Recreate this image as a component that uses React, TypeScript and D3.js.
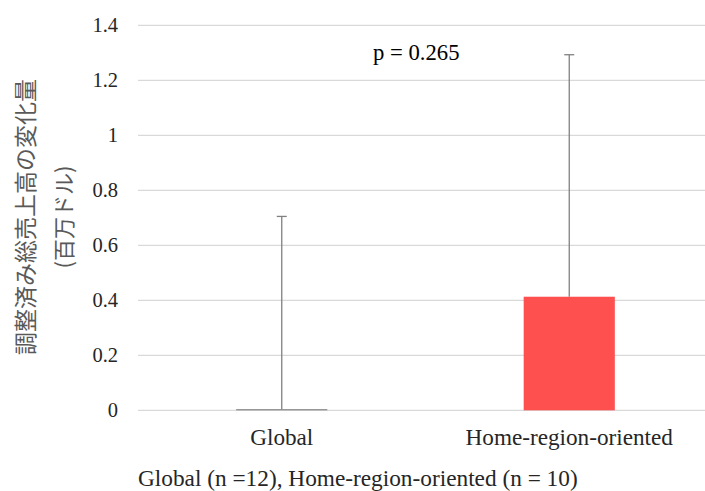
import * as d3 from "d3";

const categories = ["Global", "Home-region-oriented"];
const means = [0.004, 0.413];
const upperErrors = [0.701, 0.88];
const barColors = ["#7f7f7f", "#ff5050"];
const yTicks = [0, 0.2, 0.4, 0.6, 0.8, 1, 1.2, 1.4];
const pLabel = "p = 0.265";
const yLabel1 = "調整済み総売上高の変化量";
const yLabel2 = "(百万ドル)";
const footnote = "Global (n =12), Home-region-oriented (n = 10)";

const W = 705,
  H = 491,
  left = 138,
  right = 713,
  top = 25.3,
  bottom = 410.3;

const serif = "'Liberation Serif', serif";
const jp = "'Noto Sans CJK JP', sans-serif";

export default function App() {
  const x = d3.scaleBand().domain(categories).range([left, right]).paddingInner(0).paddingOuter(0);
  const y = d3.scaleLinear().domain([0, 1.4]).range([bottom, top]);
  const barW = x.bandwidth() * 0.317;

  return (
    <svg
      width={W}
      height={H}
      style={{ position: "absolute", left: 0, top: 0, background: "#fff" }}
    >
      {yTicks.map((t) => (
        <g key={t}>
          <line x1={left} x2={W} y1={y(t)} y2={y(t)} stroke="#d9d9d9" strokeWidth={1.3} />
          <text
            x={118}
            y={y(t)}
            dy="0.35em"
            textAnchor="end"
            style={{ fontFamily: serif }}
            fontSize={20.5}
            fill="#262626"
          >
            {d3.format("~g")(t)}
          </text>
        </g>
      ))}
      {categories.map((c, i) => {
        const cx = x(c)! + x.bandwidth() / 2;
        const yTop = y(means[i] + upperErrors[i]);
        return (
          <g key={c}>
            <rect
              x={cx - barW / 2}
              y={y(means[i])}
              width={barW}
              height={bottom - y(means[i])}
              fill={barColors[i]}
            />
            <line x1={cx} x2={cx} y1={y(means[i])} y2={yTop} stroke="#808080" strokeWidth={1.3} />
            <line x1={cx - 5} x2={cx + 5} y1={yTop} y2={yTop} stroke="#808080" strokeWidth={1.3} />
            <text
              x={cx}
              y={437}
              dy="0.35em"
              textAnchor="middle"
              style={{ fontFamily: serif }}
              fontSize={23.2}
              fill="#262626"
            >
              {c}
            </text>
          </g>
        );
      })}
      <text x={373} y={52} dy="0.35em" style={{ fontFamily: serif }} fontSize={22.7} fill="#000">
        {pLabel}
      </text>
      <text
        transform={`translate(26,217) rotate(-90)`}
        textAnchor="middle"
        dy="0.35em"
        style={{ fontFamily: jp }}
        fontSize={23}
        fill="#595959"
      >
        {yLabel1}
      </text>
      <text
        transform={`translate(64,217) rotate(-90)`}
        textAnchor="middle"
        dy="0.35em"
        style={{ fontFamily: jp }}
        fontSize={22}
        fill="#595959"
      >
        {yLabel2}
      </text>
      <text x={138} y={478} dy="0.35em" style={{ fontFamily: serif }} fontSize={23.3} fill="#262626">
        {footnote}
      </text>
    </svg>
  );
}
